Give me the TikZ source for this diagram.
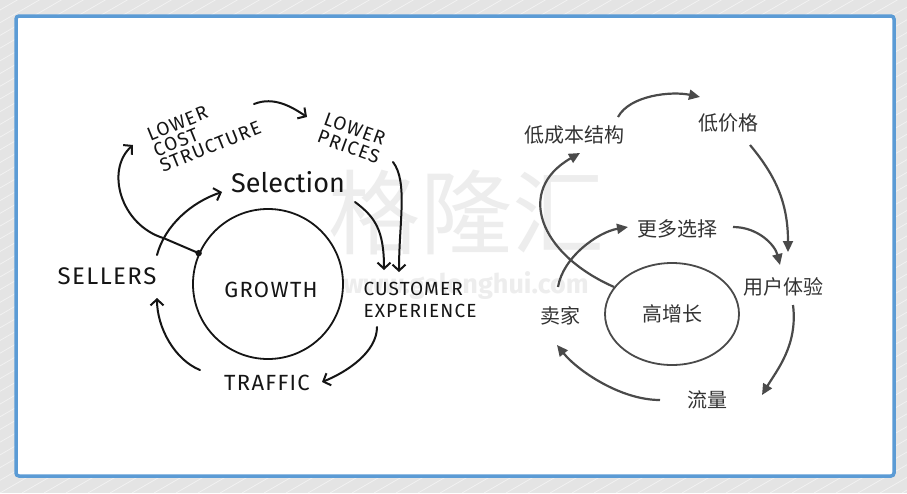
\documentclass[tikz,border=0pt]{standalone}
\usepackage{fontspec}
\setmainfont{Fira Sans}
\newfontfamily\hand[LetterSpace=6]{Fira Sans}
\newfontfamily\cjk{Noto Sans CJK SC}
\usetikzlibrary{arrows.meta,calc,shapes.geometric}
\definecolor{bgc}{HTML}{E4E4E4}
\definecolor{bordc}{HTML}{5B9BD5}
\definecolor{ink}{HTML}{151515}
\definecolor{gink}{HTML}{4A4A4A}
\definecolor{ctext}{HTML}{333333}
\definecolor{wm}{HTML}{EDEDED}
\tikzset{
  handlbl/.style={inner sep=0pt, text=ink, font=\hand},
  cjklbl/.style={inner sep=0pt, text=ctext, font=\cjk\fontsize{20}{22}\selectfont},
  handarrow/.style={draw=ink, line width=2pt, line cap=round,
     -{Straight Barb[length=6pt,width=13pt,line width=2pt]}},
  greyarrow/.style={draw=gink, line width=2.2pt,
     -{Triangle[length=11pt,width=10pt]}},
}
\begin{document}
\begin{tikzpicture}[x=1pt,y=-1pt]
\useasboundingbox (0,0) rectangle (907,493);
\fill[bgc] (0,0) rectangle (907,493);
\begin{scope}
  \clip (0,0) rectangle (907,493);
  \foreach \i in {-50,...,50} {
    \draw[white, opacity=0.5, line width=0.8pt] (\i*22,493) -- ++(900,-520);
  }
\end{scope}
\draw[bordc, line width=3.5pt, fill=white, rounded corners=3pt] (16,16) rectangle (894,476);

% watermark
\node[inner sep=0pt, text=wm, font=\cjk\fontsize{92}{96}\selectfont] (wm1) at (466,212) {格隆汇};
\node[inner sep=0pt, text=wm, font=\bfseries\fontsize{27}{29}\selectfont] (wm2) at (466,286) {www.gelonghui.com};

% ---------- left diagram ----------
\node[circle, draw=ink, line width=1.8pt, minimum size=150pt, inner sep=0pt] (gc) at (268,284) {};
\node[handlbl, font=\hand\fontsize{22}{24}\selectfont] (growth) at (271,290) {GROWTH};
\node[handlbl, font=\hand\fontsize{24}{26}\selectfont] (sellers) at (107,276) {SELLERS};
\node[handlbl, font=\fontsize{27}{29}\selectfont] (selection) at (288,182) {Selection};
\node[handlbl, font=\hand\fontsize{19}{17}\selectfont, align=left, rotate=22] (lcs) at (204,131) {LOWER\\COST\\STRUCTURE};
\node[handlbl, font=\hand\fontsize{19}{19}\selectfont, align=left, rotate=-20] (lp) at (352,138) {LOWER\\PRICES};
\node[handlbl, font=\hand\fontsize{19}{22}\selectfont, align=left] (cx) at (420,300) {CUSTOMER\\EXPERIENCE};
\node[handlbl, font=\hand\fontsize{22}{24}\selectfont] (traffic) at (267,383) {TRAFFIC};

\draw[handarrow] ([shift={(50,-21)}]sellers.center) .. controls +(8,-30) and +(-30,10) .. ([shift={(-66,10)}]selection.center);
\draw[handarrow] ([shift={(67,20)}]selection.center) .. controls +(20,15) and +(0,-40) .. ([shift={(-36,-30)}]cx.center);
\draw[handarrow] ([shift={(41,24)}]lp.center) .. controls +(15,20) and +(0,-50) .. ([shift={(-21,-28)}]cx.center);
\draw[handarrow] ([shift={(50,-27)}]lcs.center) .. controls +(20,-8) and +(-15,-10) .. ([shift={(-45,-21)}]lp.center);
\draw[handarrow] (gc.156) -- ++(-35,-15) .. controls +(-43,-13) and +(-28,25) .. ([shift={(-71,14)}]lcs.center);
\fill[ink] (gc.156) circle (3.2pt);
\draw[handarrow] ([shift={(-43,27)}]cx.center) .. controls +(0,25) and +(25,-10) .. ([shift={(55,-1)}]traffic.center);
\draw[handarrow] ([shift={(-67,-13)}]traffic.center) .. controls +(-25,-10) and +(0,30) .. ([shift={(50,22)}]sellers.center);

% ---------- right diagram ----------
\node[ellipse, draw=gink, line width=1.8pt, minimum width=134pt, minimum height=102pt, inner sep=0pt] (gzz) at (672,314) {};
\node[cjklbl] (gzzt) at (672,314) {高增长};
\node[cjklbl] (lcb) at (574,135) {低成本结构};
\node[cjklbl] (ldj) at (728,123) {低价格};
\node[cjklbl] (gdx) at (677,229) {更多选择};
\node[cjklbl] (yhty) at (783,287) {用户体验};
\node[cjklbl] (mj) at (560,316) {卖家};
\node[cjklbl] (ll) at (707,400) {流量};

\draw[greyarrow] ([shift={(44,-18)}]lcb.center) .. controls +(12,-22) and +(-28,-6) .. ([shift={(-28,-26)}]ldj.center);
\draw[greyarrow] ([shift={(22,22)}]ldj.center) .. controls +(25,30) and +(0,-50) .. ([shift={(5,-35)}]yhty.center);
\draw[greyarrow] ([shift={(56,-2)}]gdx.center) .. controls +(25,0) and +(-5,-20) .. ([shift={(-3,-22)}]yhty.center);
\draw[greyarrow] ([shift={(-2,-29)}]mj.center) .. controls +(5,-30) and +(-30,5) .. ([shift={(-49,-2)}]gdx.center);
\draw[greyarrow] (gzz.155) .. controls +(-75,-33) and +(-65,37) .. ([shift={(6,18)}]lcb.center);
\draw[greyarrow] ([shift={(10,18)}]yhty.center) .. controls +(5,40) and +(15,-25) .. ([shift={(55,-5)}]ll.center);
\draw[greyarrow] ([shift={(-47,0)}]ll.center) .. controls +(-40,0) and +(20,25) .. ([shift={(-3,29)}]mj.center);
\end{tikzpicture}
\end{document}
